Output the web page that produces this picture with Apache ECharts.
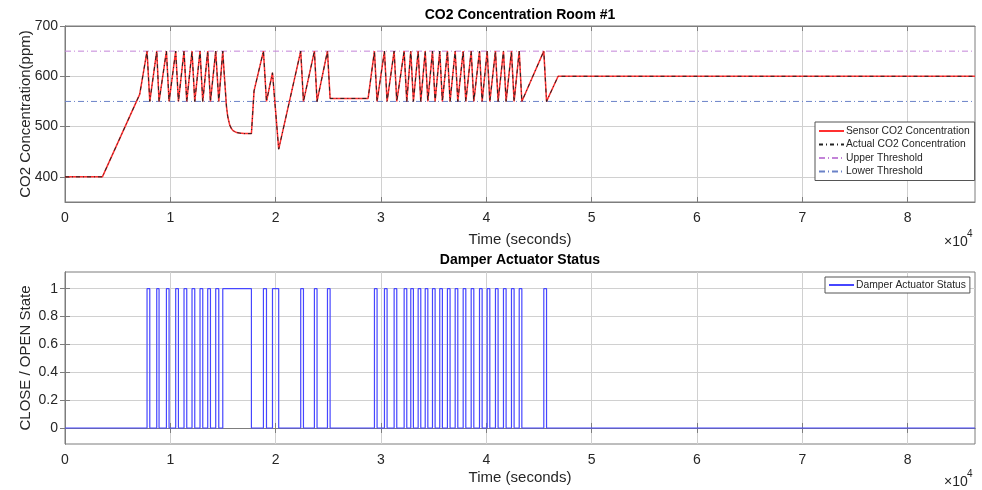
<!DOCTYPE html>
<html><head><meta charset="utf-8">
<script src="https://cdn.jsdelivr.net/npm/echarts@6/dist/echarts.min.js"></script>
<style>html,body{margin:0;padding:0;background:#fff}#c{width:982px;height:490px}</style>
</head><body><div id="c"></div>
<script>
// ---- data ----
const co2Time = [0,3550,7090,7790,8050,8710,8930,9630,9880,10510,10770,11300,11560,12060,12320,12820,13080,13550,13810,14310,14600,14980,15100,15200,15330,15450,15640,15800,15950,16300,16590,17000,17700,17950,18840,19130,19700,20290,22380,22640,23680,23930,24920,25170,28780,29380,29630,30330,30580,31250,31500,32200,32450,32830,33080,33530,33780,34200,34450,34890,35140,35580,35830,36310,36560,37045,37295,37805,38055,38565,38815,39355,39605,40085,40335,40870,41120,41630,41880,42390,42640,43125,43375,45460,45720,46820,86400];
const co2Value = [400,400,564,650,550,650,550,650,550,650,550,650,550,650,550,650,550,650,550,650,550,650,610,580,540,520,503,496,492,488,487,486,486,571,650,550,607,455,650,550,650,550,650,556,556,650,550,650,550,650,550,650,550,650,550,650,550,650,550,650,550,650,550,650,550,650,550,650,550,650,550,650,550,650,550,650,550,650,550,650,550,650,550,650,550,600,600];
const pulseStart = [7790,8710,9630,10510,11300,12060,12820,13550,14310,14980,18840,19700,22380,23680,24920,29380,30330,31250,32200,32830,33530,34200,34890,35580,36310,37045,37805,38565,39355,40085,40870,41630,42390,43125,45460];
const pulseEnd   = [8050,8930,9880,10770,11560,12320,13080,13810,14600,17700,19130,20290,22640,23930,25170,29630,30580,31500,32450,33080,33780,34450,35140,35830,36560,37295,38055,38815,39605,40335,41120,41880,42640,43375,45720];
const upperThreshold = 650;
const lowerThreshold = 550;
const xMin = 0, xMax = 86400;
const xTicks = [0,10000,20000,30000,40000,50000,60000,70000,80000];
const co2Ticks = [400,500,600,700];
const stateTicks = [0,0.2,0.4,0.6,0.8,1];
const seriesNames = ['Sensor CO2 Concentration','Actual CO2 Concentration','Upper Threshold','Lower Threshold'];
const damperName = 'Damper Actuator Status';

// ---- build series points ----
const co2Pts = co2Time.map((t,i)=>[t,co2Value[i]]);
const damperPts = [[xMin,0]];
pulseStart.forEach((s,i)=>{ damperPts.push([s,0],[s,1],[pulseEnd[i],1],[pulseEnd[i],0]); });
damperPts.push([xMax,0]);

const FONT = 'Liberation Sans, Arial, Helvetica, sans-serif';
const TXT = '#262626';
const BOX = '#7d7d7d';
const GRIDC = '#d0d0d0';

function xAxisCfg(gi,gap){
  return [{
    type:'value', gridIndex:gi, min:xMin, max:xMax,
    name:'Time (seconds)', nameLocation:'middle', nameGap: gap, nameMoveOverlap:false,
    nameTextStyle:{fontFamily:FONT,fontSize:15,color:TXT},
    axisLine:{show:true,lineStyle:{color:BOX}},
    axisTick:{show:true,inside:true,length:5,lineStyle:{color:BOX},customValues:xTicks},
    axisLabel:{fontFamily:FONT,fontSize:14,color:TXT,margin:9,customValues:xTicks,formatter:v=>String(v/10000)},
    splitLine:{show:true,lineStyle:{color:GRIDC,width:1}}
  },{
    type:'value', gridIndex:gi, min:xMin, max:xMax, position:'top',
    axisLine:{show:true,lineStyle:{color:BOX}},
    axisTick:{show:true,inside:true,length:5,lineStyle:{color:BOX},customValues:xTicks},
    axisLabel:{show:false}, splitLine:{show:false}
  }];
}
function yAxisCfg(gi,min,max,ticks,name,fmt,gap){
  return [{
    type:'value', gridIndex:gi, min:min, max:max,
    name:name, nameLocation:'middle', nameGap:gap, nameRotate:90, nameMoveOverlap:false,
    nameTextStyle:{fontFamily:FONT,fontSize:15,color:TXT},
    axisLine:{show:true,lineStyle:{color:BOX}},
    axisTick:{show:true,inside:true,length:5,lineStyle:{color:BOX},customValues:ticks},
    axisLabel:{fontFamily:FONT,fontSize:14,color:TXT,margin:7,customValues:ticks,formatter:fmt},
    splitLine:{show:true,lineStyle:{color:GRIDC,width:1}}
  },{
    type:'value', gridIndex:gi, min:min, max:max, position:'right',
    axisLine:{show:true,lineStyle:{color:BOX}},
    axisTick:{show:true,inside:true,length:5,lineStyle:{color:BOX},customValues:ticks},
    axisLabel:{show:false}, splitLine:{show:false}
  }];
}

const chart = echarts.init(document.getElementById('c'),null,{renderer:'canvas'});
const option = {
  animation:false,
  backgroundColor:'#ffffff',
  textStyle:{fontFamily:FONT},
  grid:[
    {left:65,right:7,top:26,height:176,show:true,borderColor:BOX,borderWidth:1,backgroundColor:'#fff'},
    {left:65,right:7,top:272,height:172,show:true,borderColor:BOX,borderWidth:1,backgroundColor:'#fff'}
  ],
  xAxis:[...xAxisCfg(0,30),...xAxisCfg(1,26)],
  yAxis:[
    ...yAxisCfg(0,350,700,co2Ticks,'CO2 Concentration(ppm)',v=>String(v),32),
    ...yAxisCfg(1,-0.115,1.12,stateTicks,'CLOSE / OPEN State',v=>String(Math.round(v*10)/10),32)
  ],
  legend:[{
    orient:'vertical', left:815, top:122,
    padding:[4,5,4,3], itemGap:3.5, itemWidth:25, itemHeight:11,
    backgroundColor:'#fff', borderColor:'#555', borderWidth:1, borderRadius:0,
    itemStyle:{opacity:0},
    textStyle:{fontFamily:FONT,fontSize:10.3,color:TXT,padding:[0,0,0,-3]},
    data:seriesNames
  },{
    orient:'vertical', left:825, top:277,
    padding:[3,4,3,3], itemWidth:25, itemHeight:11,
    backgroundColor:'#fff', borderColor:'#555', borderWidth:1, borderRadius:0,
    itemStyle:{opacity:0},
    textStyle:{fontFamily:FONT,fontSize:10.3,color:TXT,padding:[0,0,0,-3]},
    data:[damperName]
  }],
  series:[
    {name:seriesNames[0],type:'line',xAxisIndex:0,yAxisIndex:0,data:co2Pts,symbol:'none',
     lineStyle:{color:'#ff3030',width:1.5},itemStyle:{color:'#ff3030'},z:3},
    {name:seriesNames[1],type:'line',xAxisIndex:0,yAxisIndex:0,data:co2Pts,symbol:'none',
     lineStyle:{color:'#222222',width:1,type:[4,3,1,3]},itemStyle:{color:'#222222'},z:4},
    {name:seriesNames[2],type:'line',xAxisIndex:0,yAxisIndex:0,data:[[xMin,upperThreshold],[xMax,upperThreshold]],symbol:'none',
     lineStyle:{color:'#c383d8',width:1,type:[6,3,1,3]},itemStyle:{color:'#c383d8'},z:2},
    {name:seriesNames[3],type:'line',xAxisIndex:0,yAxisIndex:0,data:[[xMin,lowerThreshold],[xMax,lowerThreshold]],symbol:'none',
     lineStyle:{color:'#6a82c8',width:1,type:[6,3,1,3]},itemStyle:{color:'#6a82c8'},z:2},
    {name:damperName,type:'line',xAxisIndex:2,yAxisIndex:2,data:damperPts,symbol:'none',
     lineStyle:{color:'#4646ff',width:1.2},itemStyle:{color:'#4646ff'},z:3}
  ],
  graphic:[
    {type:'text',x:520,y:15,style:{text:'CO2 Concentration Room #1',font:'bold 14px '+FONT,fill:'#000',textAlign:'center',textVerticalAlign:'middle'}},
    {type:'text',x:520,y:260,style:{text:'Damper Actuator Status',font:'bold 14px '+FONT,fill:'#000',textAlign:'center',textVerticalAlign:'middle'}},
    {type:'text',x:944,y:242,style:{text:'\u00d710',font:'14px '+FONT,fill:TXT,textAlign:'left',textVerticalAlign:'middle'}},
    {type:'text',x:967,y:234,style:{text:'4',font:'10px '+FONT,fill:TXT,textAlign:'left',textVerticalAlign:'middle'}},
    {type:'text',x:944,y:482,style:{text:'\u00d710',font:'14px '+FONT,fill:TXT,textAlign:'left',textVerticalAlign:'middle'}},
    {type:'text',x:967,y:474,style:{text:'4',font:'10px '+FONT,fill:TXT,textAlign:'left',textVerticalAlign:'middle'}}
  ]
};
chart.setOption(option);
</script></body></html>
